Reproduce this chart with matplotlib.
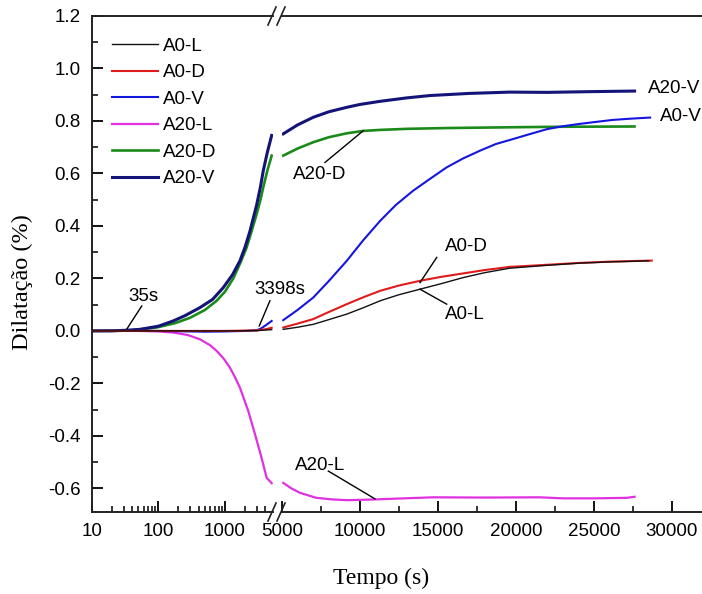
import numpy as np
import matplotlib
matplotlib.use("Agg")
import matplotlib.pyplot as plt
from matplotlib.lines import Line2D
from matplotlib.ticker import FixedLocator, NullFormatter

plt.rcParams['font.family'] = ['Liberation Sans', 'DejaVu Sans']
plt.rcParams['axes.unicode_minus'] = False

# --- data: left panel (log time, s) ---
tL_a20v = [10, 20, 35, 53, 100, 167, 250, 421, 650, 940, 1300, 1670, 2000, 2360, 2977, 3400, 3740, 4300, 5000]
vL_a20v = [0, 0, 0.003, 0.006, 0.018, 0.038, 0.058, 0.089, 0.12, 0.165, 0.215, 0.267, 0.32, 0.38, 0.48, 0.55, 0.61, 0.68, 0.745]
tL_a20d = [10, 40, 94, 180, 298, 500, 748, 1000, 1328, 1700, 2108, 2500, 2977, 3400, 3740, 4300, 5000]
vL_a20d = [0, 0.002, 0.013, 0.03, 0.05, 0.08, 0.115, 0.15, 0.2, 0.26, 0.318, 0.38, 0.445, 0.5, 0.547, 0.61, 0.668]
tL_a20l = [10, 50, 100, 167, 280, 421, 600, 748, 950, 1184, 1400, 1670, 2228, 2814, 3532, 4207, 5000]
vL_a20l = [0, 0, -0.002, -0.006, -0.016, -0.032, -0.055, -0.076, -0.105, -0.14, -0.175, -0.216, -0.305, -0.394, -0.484, -0.56, -0.58]
tL_a0v = [10, 100, 500, 1000, 2000, 3000, 3398, 4000, 5000]
vL_a0v = [0, 0, -0.003, -0.002, 0, 0.003, 0.008, 0.02, 0.038]
tL_a0d = [10, 1000, 3000, 4000, 5000]
vL_a0d = [0, 0, 0.002, 0.006, 0.012]
tL_a0l = [10, 1000, 3000, 5000]
vL_a0l = [0, 0, 0.001, 0.005]

# --- right panel (linear time, s) ---
tR_a20v = [5080, 6000, 7000, 8000, 9150, 10000, 11300, 13000, 14500, 17000, 19600, 22000, 25000, 27600]
vR_a20v = [0.751, 0.785, 0.814, 0.835, 0.852, 0.863, 0.875, 0.888, 0.897, 0.905, 0.91, 0.909, 0.912, 0.914]
tR_a20d = [5080, 6000, 7000, 8000, 9150, 10200, 11300, 13000, 15500, 19600, 23000, 27600]
vR_a20d = [0.668, 0.695, 0.719, 0.738, 0.753, 0.762, 0.766, 0.77, 0.773, 0.776, 0.778, 0.779]
tR_a0v = [5080, 6000, 7000, 8000, 9150, 10200, 11300, 12300, 13400, 14500, 15550, 16600, 17700, 18700,
          19800, 21000, 22000, 23000, 24100, 25200, 26200, 27400, 28600]
vR_a0v = [0.041, 0.08, 0.127, 0.19, 0.267, 0.345, 0.42, 0.48, 0.534, 0.58, 0.623, 0.657, 0.687, 0.712,
          0.731, 0.752, 0.769, 0.78, 0.789, 0.797, 0.804, 0.809, 0.813]
tR_a0d = [5080, 6000, 7000, 8000, 9150, 10200, 11300, 12500, 13850, 15200, 16600, 18000, 19600, 22000, 24000, 26000, 28700]
vR_a0d = [0.013, 0.028, 0.045, 0.072, 0.102, 0.128, 0.153, 0.173, 0.191, 0.206, 0.219, 0.232, 0.244, 0.252, 0.259, 0.264, 0.268]
tR_a0l = [5080, 6000, 7000, 8000, 9150, 10200, 11300, 12500, 13850, 15200, 16600, 18000, 19600, 22000, 24000, 26000, 28500]
vR_a0l = [0.006, 0.014, 0.025, 0.043, 0.064, 0.088, 0.115, 0.138, 0.159, 0.18, 0.203, 0.222, 0.239, 0.25, 0.258, 0.263, 0.267]
tR_a20l = [5080, 5600, 6150, 7200, 8200, 9150, 10500, 11900, 14700, 18000, 21500, 23000, 25000, 27100, 27600]
vR_a20l = [-0.579, -0.6, -0.617, -0.636, -0.642, -0.645, -0.643, -0.64, -0.634, -0.635, -0.634, -0.638, -0.638, -0.636, -0.632]

names = ['A0-L', 'A0-D', 'A0-V', 'A20-L', 'A20-D', 'A20-V']
colors = ['#111111', '#e01b1b', '#1515e0', '#e030e0', '#1a8a1a', '#141478']
widths = [1.0, 1.5, 1.5, 1.6, 1.9, 2.2]

W, H = 702, 594
fig = plt.figure(figsize=(W/100, H/100), dpi=100)

def fx(px):
    return px / W

def fy(py):
    return 1 - py / H

ax1 = fig.add_axes([fx(91.7), fy(512), fx(272.8-91.7), fy(16)-fy(512)])
ax2 = fig.add_axes([fx(282), fy(512), fx(W-282), fy(16)-fy(512)], sharey=ax1)
ax1.patch.set_visible(False)
ax2.patch.set_visible(False)

left = [(tL_a0l, vL_a0l), (tL_a0d, vL_a0d), (tL_a0v, vL_a0v), (tL_a20l, vL_a20l), (tL_a20d, vL_a20d), (tL_a20v, vL_a20v)]
right = [(tR_a0l, vR_a0l), (tR_a0d, vR_a0d), (tR_a0v, vR_a0v), (tR_a20l, vR_a20l), (tR_a20d, vR_a20d), (tR_a20v, vR_a20v)]
handles = {}
for i in [3, 4, 5, 2, 1, 0]:
    handles[names[i]], = ax1.plot(left[i][0], left[i][1], color=colors[i], lw=widths[i])
    ax2.plot(right[i][0], right[i][1], color=colors[i], lw=widths[i])

ax1.set_xscale('log')
ax1.set_xlim(10, 5200)
ax2.set_xlim(5000, 5000 + (W-282)*5000/78)
ax1.set_ylim(-0.69, 1.2)

yt = np.arange(-0.6, 1.21, 0.2)
ax1.set_yticks(yt)
ax1.set_yticklabels(['%.1f' % v for v in yt])
ax1.yaxis.set_minor_locator(FixedLocator(np.arange(-0.7, 1.2, 0.1)))
ax1.set_xticks([10, 100, 1000])
ax1.set_xticklabels(['10', '100', '1000'])
minors = [m * d for d in (10, 100, 1000) for m in range(2, 10)]
ax1.xaxis.set_minor_locator(FixedLocator([m for m in minors if m <= 4000]))
ax1.xaxis.set_minor_formatter(NullFormatter())
ax2.set_xticks([5000, 10000, 15000, 20000, 25000, 30000])
ax2.xaxis.set_minor_locator(FixedLocator([7500, 12500, 17500, 22500, 27500]))

for ax in (ax1, ax2):
    ax.tick_params(which='major', direction='in', length=8, width=1.3, labelsize=13.5, pad=8)
    ax.tick_params(which='minor', direction='in', length=4.5, width=1.1)
    for s in ax.spines.values():
        s.set_linewidth(1.4)
        s.set_color('#222222')
ax1.spines['right'].set_visible(False)
ax2.spines['left'].set_visible(False)
ax2.spines['right'].set_visible(False)
ax2.tick_params(axis='y', which='both', left=False, labelleft=False)

# break marks
for cy in (16, 512):
    for cx in (272, 281):
        fig.add_artist(Line2D([fx(cx-4), fx(cx+4)], [fy(cy+9), fy(cy-9)], color='#222222', lw=1.2))

ax1.legend([handles[n] for n in names], names, loc='upper left', bbox_to_anchor=(0.111, 0.956), frameon=False,
           fontsize=13.5, handlelength=2.45, handletextpad=0.27, labelspacing=0.5, borderpad=0, borderaxespad=0)

# annotations
lk = dict(color='black', lw=1.0)
ax1.plot([33.8, 56.3], [0.008, 0.095], **lk)
ax1.text(58.7, 0.13, '35s', fontsize=13.5, ha='center', va='center')
ax1.plot([3258, 4710], [0.019, 0.115], clip_on=False, **lk)
ax1.text(6650, 0.156, '3398s', fontsize=13.5, ha='center', va='center', clip_on=False)
ax2.plot([7756, 10212], [0.642, 0.763], **lk)
ax2.text(7436, 0.595, 'A20-D', fontsize=13.5, ha='center', va='center')
ax2.plot([14917, 13846], [0.28, 0.184], **lk)
ax2.text(16839, 0.32, 'A0-D', fontsize=13.5, ha='center', va='center')
ax2.plot([15557, 13846], [0.102, 0.159], **lk)
ax2.text(16730, 0.061, 'A0-L', fontsize=13.5, ha='center', va='center')
ax2.plot([7968, 10961], [-0.534, -0.64], **lk)
ax2.text(7436, -0.511, 'A20-L', fontsize=13.5, ha='center', va='center')
ax2.text(28460, 0.924, 'A20-V', fontsize=13.5, ha='left', va='center', clip_on=False)
ax2.text(29230, 0.817, 'A0-V', fontsize=13.5, ha='left', va='center', clip_on=False)

fig.text(fx(22), fy(282), 'Dilatação (%)', rotation=90, ha='center', va='center',
         fontsize=17.5, family='Liberation Serif')
fig.text(fx(381), fy(578), 'Tempo (s)', ha='center', va='center', fontsize=17, family='Liberation Serif')

fig.savefig('out.png', dpi=100)
